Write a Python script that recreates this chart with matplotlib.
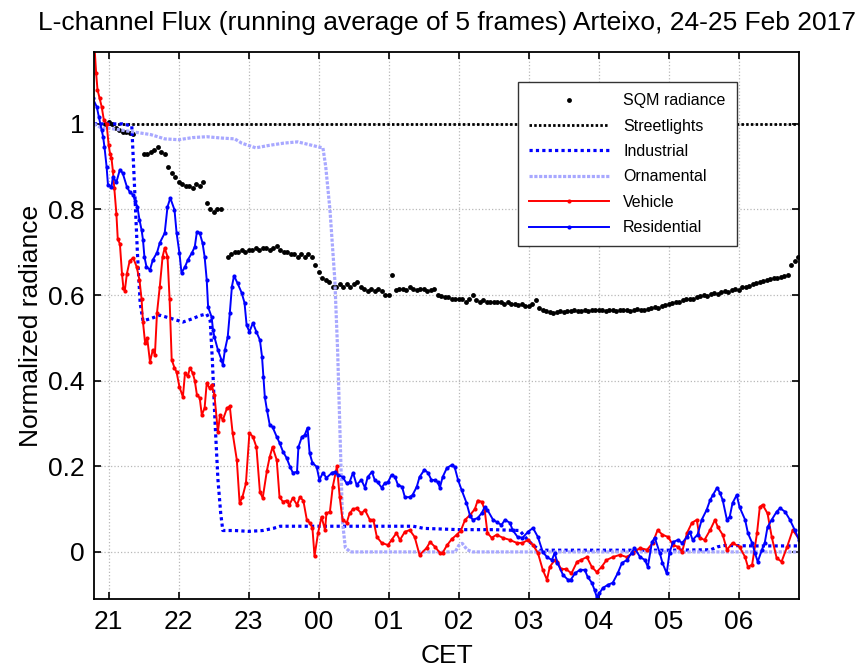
import numpy as np
import matplotlib
matplotlib.use("Agg")
import matplotlib.pyplot as plt

plt.rcParams['font.family'] = ['Liberation Sans', 'DejaVu Sans']

# ---------------- data (hours, 24 = midnight) ----------------
hour_ticks = [21, 22, 23, 24, 25, 26, 27, 28, 29, 30]
hour_labels = ['21', '22', '23', '00', '01', '02', '03', '04', '05', '06']

# SQM radiance, one sample every 0.05 h from 20.95 h (nan = no sample)
sqm_start = 20.95
sqm_step = 0.05
nan = np.nan
sqm_v = [
    1.0, 1.005, 1.0, 0.99, 0.985, 0.98, 0.98, 0.978, 0.976, nan,
    nan, 0.93, 0.93, 0.935, 0.94, 0.945, 0.935, 0.93, 0.90, 0.885,
    0.875, 0.865, 0.86, 0.855, 0.855, 0.85, 0.86, 0.855, 0.865, 0.815,
    0.80, 0.795, 0.80, 0.80, nan, 0.69, 0.695, 0.70, 0.70, 0.705,
    0.70, 0.705, 0.705, 0.71, 0.705, 0.71, 0.71, 0.705, 0.71, 0.715,
    0.705, 0.70, 0.70, 0.695, 0.695, 0.69, 0.695, 0.69, 0.695, 0.69,
    0.67, 0.655, 0.64, 0.635, 0.63, 0.62, 0.62, 0.625, 0.62, 0.625,
    0.62, 0.625, 0.63, 0.62, 0.615, 0.61, 0.615, 0.61, 0.615, 0.61,
    0.60, 0.60, 0.647, 0.612, 0.615, 0.615, 0.612, 0.618, 0.615, 0.612,
    0.615, 0.615, 0.61, 0.612, 0.615, 0.60, 0.598, 0.595, 0.595, 0.59,
    0.59, 0.592, 0.59, 0.585, 0.59, 0.60, 0.588, 0.585, 0.588, 0.585,
    0.585, 0.585, 0.583, 0.585, 0.58, 0.583, 0.58, 0.58, 0.578, 0.58,
    0.575, 0.575, 0.58, 0.588, 0.57, 0.565, 0.562, 0.56, 0.558, 0.56,
    0.562, 0.56, 0.562, 0.562, 0.565, 0.562, 0.563, 0.565, 0.563, 0.565,
    0.565, 0.566, 0.565, 0.563, 0.566, 0.565, 0.563, 0.565, 0.566, 0.565,
    0.563, 0.565, 0.568, 0.565, 0.566, 0.568, 0.57, 0.572, 0.57, 0.575,
    0.578, 0.58, 0.582, 0.585, 0.583, 0.588, 0.59, 0.592, 0.59, 0.595,
    0.597, 0.60, 0.598, 0.602, 0.605, 0.603, 0.607, 0.61, 0.608, 0.612,
    0.615, 0.613, 0.618, 0.62, 0.622, 0.625, 0.628, 0.63, 0.632, 0.635,
    0.637, 0.64, 0.64, 0.642, 0.645, 0.648, 0.67, 0.68, 0.69,
]

street_t = [20.79, 30.87]
street_v = [1.0, 1.0]

ind_t = [20.79, 21.0, 21.2, 21.33, 21.37, 21.41, 21.45, 21.49, 21.6, 21.73,
         21.9, 22.06, 22.2, 22.3, 22.4, 22.45, 22.48, 22.52, 22.56, 22.6,
         22.63, 22.8, 23.0, 23.2, 23.35, 23.45, 23.7, 24.0, 24.3, 24.6,
         25.0, 25.35, 25.5, 26.0, 26.5, 26.87, 27.0, 27.15, 28.0, 29.0,
         29.6, 29.7, 29.8, 30.2, 30.87]
ind_v = [1.0, 1.0, 1.0, 0.995, 0.85, 0.70, 0.58, 0.54, 0.545, 0.553,
         0.545, 0.537, 0.545, 0.552, 0.556, 0.54, 0.45, 0.30, 0.17, 0.09,
         0.05, 0.05, 0.048, 0.05, 0.055, 0.06, 0.06, 0.06, 0.06, 0.06,
         0.06, 0.06, 0.055, 0.052, 0.052, 0.05, 0.025, 0.004, 0.004, 0.004,
         0.005, 0.012, 0.015, 0.014, 0.014]

orn_t = [20.79, 20.9, 21.0, 21.2, 21.4, 21.6, 21.8, 22.0, 22.2, 22.4,
         22.6, 22.8, 22.9, 23.1, 23.3, 23.5, 23.7, 23.85, 24.0, 24.06,
         24.1, 24.16, 24.23, 24.27, 24.3, 24.34, 24.38, 24.45, 25.0, 25.95,
         26.0, 26.05, 26.12, 26.2, 28.0, 30.87]
orn_v = [1.0, 0.99, 0.99, 0.985, 0.98, 0.975, 0.965, 0.963, 0.968, 0.97,
         0.967, 0.965, 0.955, 0.944, 0.95, 0.955, 0.958, 0.952, 0.946, 0.944,
         0.90, 0.80, 0.635, 0.47, 0.30, 0.07, 0.01, 0.0, 0.0, 0.0,
         0.015, 0.02, 0.005, 0.0, 0.0, 0.0]

veh_t = [20.79, 20.82, 20.84, 20.87, 20.90, 20.93, 20.97, 21.00, 21.02, 21.04,
         21.06, 21.08, 21.11, 21.13, 21.16, 21.19, 21.21, 21.23, 21.26, 21.30,
         21.35, 21.40, 21.44, 21.47, 21.49, 21.52, 21.55, 21.59, 21.63, 21.66,
         21.69, 21.73, 21.77, 21.80, 21.84, 21.87, 21.90, 21.94, 21.97, 22.01,
         22.06, 22.09, 22.13, 22.16, 22.20, 22.23, 22.26, 22.30, 22.33, 22.37,
         22.40, 22.44, 22.47, 22.51, 22.56, 22.59, 22.63, 22.69, 22.73, 22.77,
         22.83, 22.87, 22.91, 22.96, 23.01, 23.06, 23.11, 23.16, 23.20, 23.26,
         23.30, 23.34, 23.40, 23.44, 23.49, 23.54, 23.58, 23.63, 23.69, 23.73,
         23.78, 23.83, 23.87, 23.91, 23.94, 23.99, 24.04, 24.09, 24.11, 24.16,
         24.20, 24.26, 24.30, 24.34, 24.40, 24.44, 24.49, 24.54, 24.61, 24.66,
         24.73, 24.78, 24.83, 24.90, 24.99, 25.04, 25.11, 25.16, 25.23, 25.30,
         25.37, 25.44, 25.54, 25.59, 25.66, 25.73, 25.77, 25.83, 25.90, 25.97,
         26.03, 26.09, 26.16, 26.23, 26.27, 26.33, 26.37, 26.41, 26.47, 26.54,
         26.63, 26.73, 26.83, 26.91, 26.99, 27.06, 27.13, 27.20, 27.26, 27.30,
         27.37, 27.41, 27.46, 27.53, 27.61, 27.69, 27.74, 27.83, 27.90, 27.97,
         28.04, 28.11, 28.20, 28.30, 28.40, 28.49, 28.59, 28.69, 28.77, 28.84,
         28.91, 28.99, 29.06, 29.13, 29.19, 29.26, 29.33, 29.40, 29.44, 29.51,
         29.59, 29.66, 29.70, 29.77, 29.83, 29.91, 30.01, 30.09, 30.13, 30.19,
         30.26, 30.30, 30.34, 30.41, 30.47, 30.54, 30.61, 30.69, 30.77, 30.87]
veh_v = [1.20, 1.12, 1.08, 1.06, 1.04, 1.01, 1.00, 0.95, 0.93, 0.92,
         0.89, 0.85, 0.79, 0.73, 0.72, 0.65, 0.617, 0.61, 0.65, 0.68,
         0.687, 0.666, 0.635, 0.59, 0.537, 0.488, 0.50, 0.444, 0.472, 0.46,
         0.558, 0.62, 0.69, 0.71, 0.69, 0.59, 0.449, 0.43, 0.42, 0.386,
         0.362, 0.418, 0.41, 0.43, 0.418, 0.40, 0.367, 0.36, 0.32, 0.336,
         0.394, 0.383, 0.39, 0.367, 0.28, 0.32, 0.308, 0.336, 0.34, 0.278,
         0.215, 0.114, 0.128, 0.16, 0.278, 0.269, 0.245, 0.14, 0.126, 0.19,
         0.222, 0.245, 0.215, 0.128, 0.117, 0.12, 0.11, 0.126, 0.11, 0.128,
         0.12, 0.075, 0.068, 0.056, -0.01, 0.044, 0.082, 0.051, 0.09, 0.094,
         0.152, 0.20, 0.128, 0.075, 0.068, 0.09, 0.10, 0.102, 0.09, 0.098,
         0.075, 0.075, 0.035, 0.021, 0.016, 0.028, 0.044, 0.028, 0.047, 0.051,
         0.035, -0.007, 0.009, 0.023, 0.012, -0.002, -0.002, 0.015, 0.03, 0.04,
         0.05, 0.075, 0.086, 0.10, 0.12, 0.117, 0.098, 0.044, 0.033, 0.04,
         0.033, 0.028, 0.021, 0.021, 0.028, 0.016, -0.002, -0.042, -0.065, -0.035,
         -0.019, -0.023, -0.04, -0.04, -0.05, -0.023, -0.019, -0.012, -0.035, -0.047,
         -0.035, -0.019, -0.012, -0.007, -0.012, -0.002, 0.009, 0.005, 0.021, 0.051,
         0.04, 0.035, 0.016, 0.012, 0.0, 0.044, 0.068, 0.075, 0.033, 0.028,
         0.051, 0.075, 0.058, 0.04, 0.005, 0.021, 0.012, -0.012, -0.035, -0.03,
         0.044, 0.105, 0.11, 0.09, 0.035, -0.014, -0.023, 0.012, 0.051, 0.028]

res_t = [20.77, 20.83, 20.86, 20.90, 20.92, 20.94, 20.97, 20.99, 21.04, 21.06,
         21.11, 21.16, 21.20, 21.26, 21.30, 21.35, 21.38, 21.41, 21.44, 21.47,
         21.49, 21.51, 21.54, 21.59, 21.63, 21.69, 21.73, 21.80, 21.84, 21.88,
         21.94, 21.97, 22.01, 22.04, 22.09, 22.13, 22.19, 22.23, 22.26, 22.30,
         22.34, 22.37, 22.40, 22.42, 22.47, 22.49, 22.51, 22.56, 22.61, 22.63,
         22.66, 22.70, 22.73, 22.76, 22.79, 22.84, 22.90, 22.94, 22.97, 23.01,
         23.06, 23.11, 23.16, 23.19, 23.21, 23.23, 23.26, 23.30, 23.34, 23.40,
         23.44, 23.49, 23.54, 23.59, 23.63, 23.69, 23.71, 23.76, 23.80, 23.84,
         23.87, 23.91, 23.97, 24.01, 24.06, 24.11, 24.19, 24.23, 24.27, 24.34,
         24.40, 24.44, 24.49, 24.54, 24.61, 24.66, 24.70, 24.76, 24.80, 24.84,
         24.90, 24.94, 24.99, 25.04, 25.09, 25.13, 25.19, 25.23, 25.30, 25.34,
         25.40, 25.44, 25.51, 25.56, 25.61, 25.66, 25.70, 25.73, 25.77, 25.83,
         25.90, 25.94, 25.99, 26.04, 26.11, 26.16, 26.20, 26.27, 26.33, 26.37,
         26.41, 26.49, 26.54, 26.61, 26.66, 26.73, 26.77, 26.84, 26.91, 26.99,
         27.06, 27.13, 27.20, 27.26, 27.33, 27.37, 27.41, 27.49, 27.56, 27.60,
         27.66, 27.73, 27.80, 27.84, 27.90, 27.94, 27.97, 28.01, 28.06, 28.13,
         28.20, 28.27, 28.33, 28.40, 28.47, 28.51, 28.59, 28.66, 28.70, 28.76,
         28.80, 28.87, 28.91, 28.97, 29.01, 29.06, 29.13, 29.19, 29.26, 29.30,
         29.34, 29.41, 29.47, 29.54, 29.59, 29.63, 29.69, 29.73, 29.77, 29.83,
         29.87, 29.91, 29.97, 30.01, 30.09, 30.13, 30.19, 30.23, 30.27, 30.33,
         30.37, 30.41, 30.47, 30.54, 30.59, 30.66, 30.73, 30.80, 30.86]
res_v = [1.06, 1.04, 1.016, 0.986, 0.97, 0.946, 0.90, 0.857, 0.853, 0.876,
         0.864, 0.893, 0.885, 0.853, 0.841, 0.834, 0.82, 0.806, 0.776, 0.752,
         0.729, 0.69, 0.666, 0.659, 0.682, 0.699, 0.722, 0.745, 0.806, 0.827,
         0.799, 0.745, 0.699, 0.652, 0.666, 0.682, 0.699, 0.713, 0.748, 0.745,
         0.722, 0.69, 0.636, 0.572, 0.549, 0.519, 0.502, 0.472, 0.449, 0.437,
         0.472, 0.502, 0.558, 0.62, 0.645, 0.628, 0.605, 0.582, 0.53, 0.514,
         0.535, 0.514, 0.495, 0.456, 0.409, 0.362, 0.332, 0.297, 0.292, 0.269,
         0.255, 0.234, 0.22, 0.199, 0.185, 0.187, 0.245, 0.269, 0.273, 0.29,
         0.231, 0.208, 0.199, 0.168, 0.185, 0.173, 0.185, 0.187, 0.18, 0.175,
         0.16, 0.163, 0.185, 0.157, 0.168, 0.15, 0.175, 0.187, 0.168, 0.163,
         0.15, 0.16, 0.163, 0.18, 0.175, 0.157, 0.152, 0.128, 0.128, 0.133,
         0.152, 0.175, 0.192, 0.185, 0.168, 0.168, 0.163, 0.15, 0.175, 0.196,
         0.203, 0.199, 0.168, 0.145, 0.115, 0.085, 0.075, 0.079, 0.091, 0.105,
         0.098, 0.075, 0.07, 0.063, 0.075, 0.068, 0.051, 0.035, 0.033, 0.047,
         0.056, 0.035, 0.0, -0.012, -0.019, -0.002, -0.026, -0.054, -0.065, -0.065,
         -0.05, -0.042, -0.042, -0.058, -0.072, -0.089, -0.105, -0.096, -0.084, -0.077,
         -0.072, -0.05, -0.026, -0.019, -0.002, 0.009, -0.012, -0.019, -0.035, 0.023,
         0.033, -0.002, -0.026, -0.05, -0.002, 0.023, 0.028, 0.021, 0.035, 0.047,
         0.028, 0.04, 0.075, 0.098, 0.121, 0.133, 0.15, 0.138, 0.121, 0.075,
         0.082, 0.114, 0.133, 0.105, 0.075, 0.044, 0.021, -0.002, -0.023, 0.005,
         0.021, 0.058, 0.075, 0.094, 0.102, 0.094, 0.075, 0.051, 0.028]

# ---------------- plot ----------------
sqm_t = sqm_start + sqm_step * np.arange(len(sqm_v))

fig = plt.figure(figsize=(8.67, 6.68), dpi=100)
ax = fig.add_axes([0.1084, 0.1033, 0.8132, 0.8189])

ax.plot(sqm_t, sqm_v, linestyle='none', marker='o', ms=3.5, mew=0,
        color='black', label='SQM radiance')
ax.plot(street_t, street_v, color='black', lw=2.0, dashes=(0.9, 0.8),
        label='Streetlights')
ax.plot(ind_t, ind_v, color='#0000ff', lw=2.3, dashes=(1, 1),
        label='Industrial')
ax.plot(orn_t, orn_v, color='#a8a8ff', lw=2.3, dashes=(1, 0.5),
        label='Ornamental')
ax.plot(veh_t, veh_v, color='#ff0000', lw=1.4, marker='o', ms=3, mew=0,
        label='Vehicle')
ax.plot(res_t, res_v, color='#0000ff', lw=1.4, marker='o', ms=3, mew=0,
        label='Residential')

ax.set_xlim(20.79, 30.86)
ax.set_ylim(-0.11, 1.168)
ax.set_xticks(hour_ticks)
ax.set_xticklabels(hour_labels)
ax.set_yticks([0, 0.2, 0.4, 0.6, 0.8, 1.0])
ax.set_yticklabels(['0', '0.2', '0.4', '0.6', '0.8', '1'])
ax.grid(True, color='#b8b8b8', linestyle=':', lw=0.9)
ax.tick_params(direction='in', top=True, right=True, length=5, width=1.2,
               labelsize=19)
ax.tick_params(axis='x', pad=8)
ax.tick_params(axis='y', pad=6.5)
for s in ax.spines.values():
    s.set_linewidth(1.3)

ax.set_xlabel('CET', fontsize=19, labelpad=7)
ax.set_ylabel('Normalized radiance', fontsize=19, labelpad=4)
ax.set_title('L-channel Flux (running average of 5 frames) Arteixo, 24-25 Feb 2017',
             fontsize=19, pad=16)

leg = ax.legend(loc='upper left', bbox_to_anchor=(0.601, 0.945), fontsize=11.5,
                numpoints=1, handlelength=5.0, handletextpad=0.9,
                borderpad=0.7, labelspacing=0.65, fancybox=False,
                framealpha=1, edgecolor='#333333', borderaxespad=0)
leg.get_frame().set_linewidth(1.0)

fig.savefig('out.png', dpi=100)
